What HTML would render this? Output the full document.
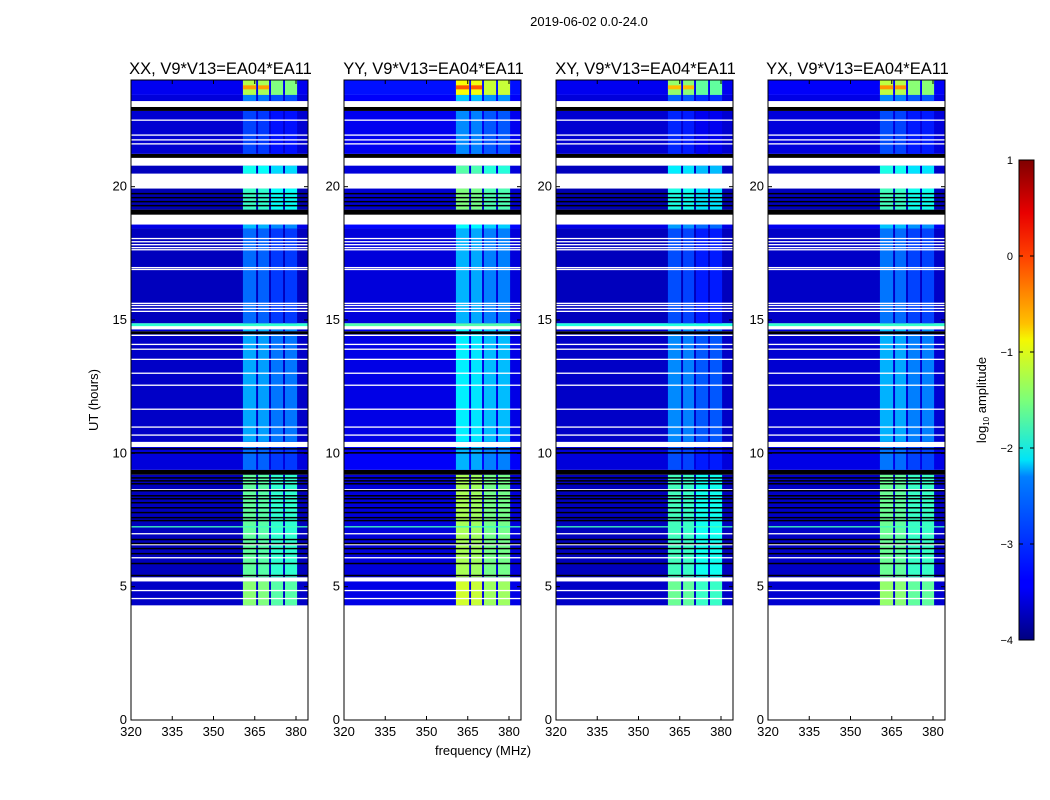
<!DOCTYPE html>
<html><head><meta charset="utf-8">
<style>
body{margin:0;background:#fff;}
svg{display:block;font-family:"Liberation Sans",sans-serif;}
</style></head>
<body>
<svg id="fig" width="1050" height="800" viewBox="0 0 1050 800">
<defs>
<linearGradient id="jet" x1="0" y1="1" x2="0" y2="0">
<stop offset="0" stop-color="#00007f"/><stop offset="0.11" stop-color="#0000ff"/>
<stop offset="0.125" stop-color="#0000ff"/><stop offset="0.34" stop-color="#0080ff"/>
<stop offset="0.375" stop-color="#00e4f8"/><stop offset="0.5" stop-color="#7cff79"/>
<stop offset="0.625" stop-color="#f4f802"/><stop offset="0.66" stop-color="#ffc000"/>
<stop offset="0.8" stop-color="#ff4000"/><stop offset="0.89" stop-color="#e80000"/>
<stop offset="1" stop-color="#7f0000"/>
</linearGradient>
</defs>
<text x="589" y="26" font-size="13" text-anchor="middle">2019-06-02 0.0-24.0</text>
<text x="98" y="400" font-size="13" text-anchor="middle" transform="rotate(-90 98 400)">UT (hours)</text>
<text x="483" y="755" font-size="13" text-anchor="middle">frequency (MHz)</text>
<g id="panels"></g>
<g>
<rect x="1019" y="160" width="15" height="480" fill="url(#jet)" stroke="#000" stroke-width="1"/>
<g id="cbticks"></g>
<text x="0" y="0" font-size="13" text-anchor="middle" transform="translate(986 400) rotate(-90)">log<tspan font-size="8" dy="3">10</tspan><tspan dy="-3"> amplitude</tspan></text>
</g>
</svg>
<script>
const panelTitles=["XX, V9*V13=EA04*EA11","YY, V9*V13=EA04*EA11","XY, V9*V13=EA04*EA11","YX, V9*V13=EA04*EA11"];
const panelBandOffset=[0,0.35,-0.15,0.05];
const panelBgOffset=[0,0.15,0,0.05];
// segments: [startHour, endHour, type, bgLevel, bandLevel]
const segStart=[4.30,5.20,5.35,9.20,9.38,10.24,10.43,14.47,14.58,14.65,14.77,14.88,18.43,18.58,18.95,19.14,19.93,20.49,20.79,21.08,21.23,22.84,22.99,23.21,23.44];
const segEnd  =[5.20,5.35,9.20,9.38,10.24,10.43,14.47,14.58,14.65,14.77,14.88,18.43,18.58,18.95,19.14,19.93,20.49,20.79,21.08,21.23,22.84,22.99,23.21,23.44,24.0];
const segType =["d","w","d","k","d","w","d","k","d","w","s","d","d","w","k","d","w","d","w","k","d","k","w","d","d"];
const segBg   =[-3.65,0,-3.7,0,-3.55,0,-3.65,0,-3.6,0,-1.9,-3.7,-3.5,0,0,-3.75,0,-3.7,0,0,-3.6,0,0,-3.55,-3.45];
const segBand =[-1.5,0,-1.7,0,-2.9,0,-2.6,0,-2.5,0,-1.9,-2.9,-2.5,0,0,-1.9,0,-2.1,0,0,-3.1,0,0,-2.8,-1.3];
const bandLo=[360.7,366.2,370.9,376.0];
const bandHi=[365.5,370.2,375.3,380.4];
const bandRel=[0.05,0,-0.2,-0.2];
const whiteLines=[22.50,21.94,21.76,21.61,18.06,17.94,17.83,17.72,17.64,16.97,16.90,15.63,15.55,15.44,15.33,14.43,14.09,13.91,13.53,13.01,12.56,11.66,10.99,10.69,8.64,6.99,6.58,6.09,4.86,4.56];
const blackLines=[14.53,10.17,10.02,9.08,8.97,8.86,8.60,8.41,8.30,8.15,7.96,7.78,7.59,7.48,6.77,6.62,6.43,6.24,5.87,5.42,19.74,19.59,19.44,19.29];
const greenLines=[7.25];
const xTicks=[320,335,350,365,380];
const yTicks=[0,5,10,15,20];
const cbTicks=[1,0,-1,-2,-3,-4];
const panelX=[131,344,556,768];

const NS="http://www.w3.org/2000/svg";
const PW=177, TOP=80, BOT=720;
function xs(x0,f){return x0+(f-320)*2.75;}
function ys(h){return BOT-h*(BOT-TOP)/24;}
function jet(v){let t=Math.max(0,Math.min(1,(v+4)/5));
 const c=x=>Math.round(255*Math.max(0,Math.min(1,x)));
 return `rgb(${c(1.5-Math.abs(4*t-3))},${c(1.5-Math.abs(4*t-2))},${c(1.5-Math.abs(4*t-1))})`;}
function mk(tag,attrs,parent){const e=document.createElementNS(NS,tag);for(const k in attrs)e.setAttribute(k,attrs[k]);parent.appendChild(e);return e;}
function fmt(n){return n<0?"\u2212"+(-n):String(n);}

const G=document.getElementById("panels");
panelTitles.forEach((title,p)=>{
 const x0=panelX[p];
 const g=mk("g",{},G);
 
 
 const hm=mk("g",{},g);
 
 
 for(let i=0;i<segStart.length;i++){
  const y1=ys(segEnd[i]),y2=ys(segStart[i]);
  const t=segType[i];
  let fill= t==="w"?"#ffffff":t==="k"?"#000000":jet(segBg[i]+panelBgOffset[p]);
  if(t==="s") fill=jet(segBg[i]+panelBandOffset[p]*0.5);
  const r=mk("rect",{x:x0,y:y1,width:PW,height:y2-y1,fill:fill},hm);
  
  
  if(t==="d"){
   for(let b=0;b<bandLo.length;b++){
    const v=segBand[i]+bandRel[b]+panelBandOffset[p];
    const br=mk("rect",{x:xs(x0,bandLo[b]),y:y1,width:xs(x0,bandHi[b])-xs(x0,bandLo[b]),height:y2-y1,fill:jet(v)},hm);
    
    
   }
   if(segBand[i]>-1.4){
    for(let b=0;b<2;b++){
     const hc=mk("rect",{x:xs(x0,bandLo[b]),y:ys(segEnd[i]-0.2),width:xs(x0,bandHi[b])-xs(x0,bandLo[b]),height:4,fill:jet(-0.4+panelBandOffset[p])},hm);
     
     
    }
   }
  }
 }
 whiteLines.forEach(h=>{const l=mk("rect",{x:x0,y:ys(h)-0.5,width:PW,height:1.3,fill:"#fff"},hm);
  
  });
 blackLines.forEach(h=>{const l=mk("rect",{x:x0,y:ys(h)-0.7,width:PW,height:1.5,fill:"#000"},hm);
  
  });
 greenLines.forEach(h=>{const l=mk("rect",{x:x0,y:ys(h)-0.5,width:PW,height:1.3,fill:jet(-1.8)},hm);
  
  });
 const fr=mk("rect",{x:x0,y:TOP,width:PW,height:BOT-TOP,fill:"none",stroke:"#000","stroke-width":1},g);
 
 
 const tt=mk("text",{x:x0+PW/2+1,y:74,"font-size":16.5,"text-anchor":"middle"},g);
 tt.textContent=title;
 
 
 xTicks.forEach(f=>{const x=xs(x0,f);
  mk("line",{x1:x,x2:x,y1:BOT,y2:BOT-4,stroke:"#000"},g);
  mk("line",{x1:x,x2:x,y1:TOP,y2:TOP+4,stroke:"#000"},g);
  const l=mk("text",{x:x,y:BOT+16,"font-size":13,"text-anchor":"middle"},g);
  l.textContent=f;
  
  });
 yTicks.forEach(h=>{const y=ys(h);
  mk("line",{x1:x0,x2:x0+4,y1:y,y2:y,stroke:"#000"},g);
  mk("line",{x1:x0+PW,x2:x0+PW-4,y1:y,y2:y,stroke:"#000"},g);
  const l=mk("text",{x:x0-4,y:y+4,"font-size":13,"text-anchor":"end"},g);
  l.textContent=h;
  
  });
});
const CB=document.getElementById("cbticks");
cbTicks.forEach(v=>{const y=160+(1-v)*96;
 mk("line",{x1:1019,x2:1023,y1:y,y2:y,stroke:"#000"},CB);
 mk("line",{x1:1034,x2:1030,y1:y,y2:y,stroke:"#000"},CB);
 const l=mk("text",{x:1013,y:y+4,"font-size":11,"text-anchor":"end"},CB);
 l.textContent=fmt(v);
 
 });
</script>
</body></html>
